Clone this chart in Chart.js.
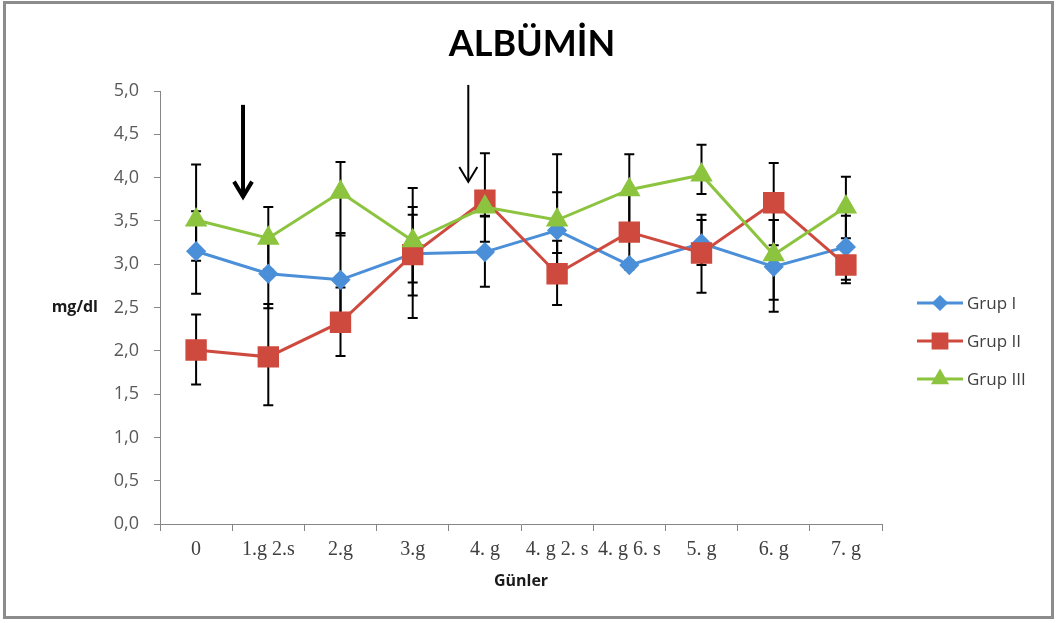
<!DOCTYPE html>
<html>
<head>
<meta charset="utf-8">
<script src="https://cdn.jsdelivr.net/npm/chart.js@4.4.1/dist/chart.umd.min.js"></script>
<style>
  html, body { margin: 0; padding: 0; background: #fff; }
  #wrap { width: 1057px; height: 623px; position: relative; }
</style>
</head>
<body>
<div id="wrap"><canvas id="myChart"></canvas></div>
<script>
const categories = ['0', '1.g 2.s', '2.g', '3.g', '4. g', '4. g 2. s', '4. g 6. s', '5. g', '6. g', '7. g'];
const yTicks = [0, 0.5, 1, 1.5, 2, 2.5, 3, 3.5, 4, 4.5, 5];

const grup1 = [3.15, 2.89, 2.82, 3.12, 3.14, 3.39, 2.99, 3.24, 2.97, 3.20];
const grup2 = [2.01, 1.93, 2.33, 3.11, 3.74, 2.89, 3.37, 3.13, 3.71, 2.99];
const grup3 = [3.51, 3.30, 3.83, 3.27, 3.66, 3.51, 3.86, 4.03, 3.11, 3.66];

// error bar ends (upper / lower)
const grup1Hi = [3.61, 3.28, 3.36, 3.66, 3.55, 3.83, 3.04, 3.57, 3.51, 3.56];
const grup1Lo = [2.66, 2.49, 2.27, 2.64, 2.74, 2.96, 2.94, 2.99, 2.45, 2.82];
const grup2Hi = [2.42, 2.54, 2.73, 3.88, 4.28, 3.27, 3.86, 3.51, 4.17, 3.20];
const grup2Lo = [1.61, 1.37, 1.94, 2.38, 3.26, 2.53, 2.99, 2.67, 3.22, 2.78];
const grup3Hi = [4.15, 3.66, 4.18, 3.57, 3.76, 4.27, 4.27, 4.38, 3.51, 4.01];
const grup3Lo = [3.04, 2.94, 3.33, 2.79, 3.56, 3.13, 3.44, 3.81, 2.59, 3.30];

// arrows: category position (fractional index), from/to value
const arrowPos = [0.65, 3.77];
const arrowFrom = [4.84, 5.07];
const arrowTo = [3.78, 3.95];
const arrowWidth = [4, 2];

const errs = [[grup1Hi, grup1Lo], [grup2Hi, grup2Lo], [grup3Hi, grup3Lo]];
const fmt = v => v.toFixed(1).replace('.', ',');

const frame = {
    id: 'frame',
    beforeDraw(chart) {
        const ctx = chart.ctx;
        ctx.save();
        ctx.fillStyle = '#fff';
        ctx.fillRect(0, 0, chart.width, chart.height);
        ctx.strokeStyle = '#8c8c8c';
        ctx.lineWidth = 3;
        ctx.strokeRect(4.5, 2.5, 1048, 615);
        ctx.restore();
    }
};

const errorBars = {
    id: 'errorBars',
    beforeDatasetsDraw(chart) {
        const {ctx, scales: {x, y}} = chart;
        ctx.save();
        ctx.strokeStyle = '#000';
        ctx.lineWidth = 2;
        errs.forEach(([hi, lo]) => {
            hi.forEach((h, i) => {
                const px = x.getPixelForValue(i);
                const t = y.getPixelForValue(h);
                const b = y.getPixelForValue(lo[i]);
                ctx.beginPath();
                ctx.moveTo(px, t); ctx.lineTo(px, b);
                ctx.moveTo(px - 5, t); ctx.lineTo(px + 5, t);
                ctx.moveTo(px - 5, b); ctx.lineTo(px + 5, b);
                ctx.stroke();
            });
        });
        ctx.restore();
    }
};

const extras = {
    id: 'extras',
    afterDraw(chart) {
        const {ctx, scales: {x, y}, chartArea} = chart;
        ctx.save();
        // title
        ctx.fillStyle = '#000';
        ctx.font = 'bold 36px Lato';
        ctx.textAlign = 'center';
        ctx.textBaseline = 'middle';
        ctx.fillText('ALBÜMİN', 532, 44);
        // arrows
        ctx.strokeStyle = '#000';
        arrowPos.forEach((p, i) => {
            const px = x.getPixelForValue(p);
            const t = y.getPixelForValue(arrowFrom[i]);
            const b = y.getPixelForValue(arrowTo[i]);
            const w = arrowWidth[i];
            ctx.lineWidth = w;
            ctx.lineCap = 'butt';
            ctx.beginPath();
            ctx.moveTo(px, t); ctx.lineTo(px, b - 1);
            ctx.stroke();
            ctx.beginPath();
            ctx.moveTo(px - 9, b - 15); ctx.lineTo(px, b); ctx.lineTo(px + 9, b - 15);
            ctx.stroke();
        });
        // y axis title, horizontal
        ctx.fillStyle = '#1a1a1a';
        ctx.font = 'bold 16px "Open Sans"';
        ctx.textAlign = 'right';
        ctx.fillText('mg/dl', 98, (chartArea.top + chartArea.bottom) / 2);
        // legend
        const ly = [303, 341, 379];
        ctx.font = '17px "Open Sans"';
        ctx.textAlign = 'left';
        chart.data.datasets.forEach((ds, i) => {
            ctx.strokeStyle = ds.borderColor;
            ctx.lineWidth = 3;
            ctx.beginPath();
            ctx.moveTo(917, ly[i]); ctx.lineTo(963, ly[i]);
            ctx.stroke();
            ctx.fillStyle = ds.pointBackgroundColor;
            ctx.strokeStyle = ds.pointBorderColor;
            Chart.helpers.drawPoint(ctx, {
                pointStyle: ds.pointStyle, radius: ds.pointRadius * 0.75,
                rotation: 0, borderWidth: 1
            }, 940, ly[i]);
            ctx.fillStyle = '#404040';
            ctx.fillText(ds.label, 967, ly[i] + 1);
        });
        ctx.restore();
    }
};

const blue = '#4a8fd8', red = '#cf4a3e', green = '#8cc43f';

new Chart(document.getElementById('myChart'), {
    type: 'line',
    data: {
        labels: categories,
        datasets: [
            {label: 'Grup I', data: grup1, borderColor: blue, pointBackgroundColor: blue, pointBorderColor: blue,
             pointStyle: 'rectRot', pointRadius: 8, borderWidth: 3, order: 3},
            {label: 'Grup II', data: grup2, borderColor: red, pointBackgroundColor: red, pointBorderColor: red,
             pointStyle: 'rect', pointRadius: 13, borderWidth: 3, order: 2},
            {label: 'Grup III', data: grup3, borderColor: green, pointBackgroundColor: green, pointBorderColor: green,
             pointStyle: 'triangle', pointRadius: 10, borderWidth: 3, order: 1}
        ]
    },
    options: {
        responsive: true,
        maintainAspectRatio: false,
        animation: false,
        layout: {padding: {left: 0, right: 175, top: 91, bottom: 0}},
        plugins: {
            legend: {display: false},
            tooltip: {enabled: false},
            title: {display: false}
        },
        scales: {
            x: {
                offset: true,
                grid: {offset: true, drawOnChartArea: false, tickLength: 7, color: '#868686'},
                border: {color: '#868686', width: 1},
                ticks: {
                    autoSkip: false, maxRotation: 0, minRotation: 0, padding: 7,
                    color: '#404040', font: {family: 'Liberation Serif', size: 20}
                },
                title: {
                    display: true, text: 'Günler', color: '#1a1a1a',
                    font: {family: 'Open Sans', size: 16, weight: 'bold'},
                    padding: {top: 4, bottom: 32}
                },
                afterFit(scale) { scale.height = 99; }
            },
            y: {
                min: 0, max: 5,
                afterBuildTicks(scale) { scale.ticks = yTicks.map(v => ({value: v})); },
                grid: {drawOnChartArea: false, tickLength: 6, color: '#868686'},
                border: {color: '#868686', width: 1},
                ticks: {
                    padding: 15, color: '#595959',
                    font: {family: 'Open Sans', size: 18},
                    callback: v => fmt(v)
                },
                afterFit(scale) { scale.width = 160; }
            }
        }
    },
    plugins: [frame, errorBars, extras]
});
</script>
</body>
</html>
